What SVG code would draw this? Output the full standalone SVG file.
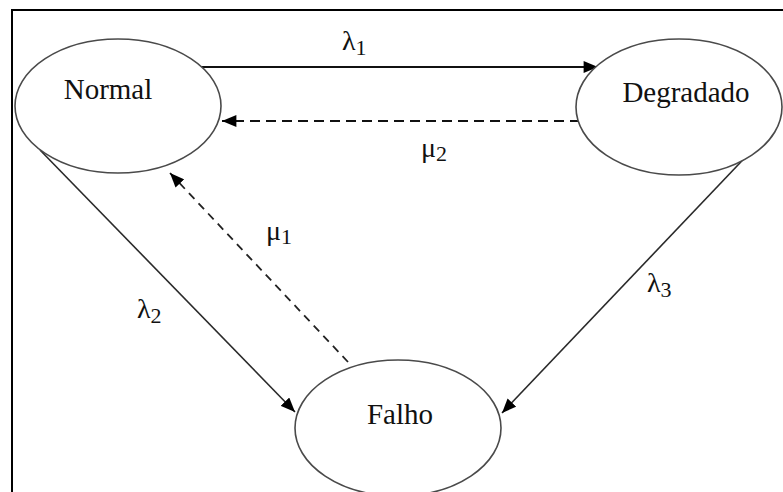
<svg xmlns="http://www.w3.org/2000/svg" width="783" height="492" viewBox="0 0 783 492">
  <style>
    .node ellipse { fill: #ffffff; stroke: #4a4a4a; stroke-width: 1.6; }
    .node text { font-family: "Liberation Serif", "DejaVu Serif", serif; font-size: 29px; fill: #111; text-anchor: middle; }
    .lbl { font-family: "Liberation Serif", "DejaVu Serif", serif; font-size: 28px; fill: #111; }
    .lbl tspan.sub { font-size: 22px; }
    .solid { fill: none; stroke: #111; stroke-width: 2; }
    .thin { fill: none; stroke: #2a2a2a; stroke-width: 1.6; }
    .dash { fill: none; stroke: #111; stroke-width: 2; stroke-dasharray: 10 6; }
    .dash2 { fill: none; stroke: #222; stroke-width: 1.8; stroke-dasharray: 8 6; }
  </style>
  <defs>
    <marker id="arr" viewBox="0 0 12 10" refX="12" refY="5" markerWidth="15" markerHeight="12" markerUnits="userSpaceOnUse" orient="auto">
      <path d="M0,0 L12,5 L0,10 z" fill="#000"/>
    </marker>
  </defs>
  <rect x="0" y="0" width="783" height="492" fill="#ffffff"/>
  <rect x="12" y="10" width="800" height="520" fill="none" stroke="#000" stroke-width="2"/>

  <g id="connectors">
    <line class="solid" x1="200" y1="67" x2="598" y2="67" marker-end="url(#arr)"/>
    <line class="dash" x1="580" y1="121" x2="222" y2="121" marker-end="url(#arr)"/>
    <line class="thin" x1="40" y1="150" x2="295" y2="412" marker-end="url(#arr)"/>
    <line class="dash2" x1="348" y1="362" x2="170" y2="173" marker-end="url(#arr)"/>
    <line class="thin" x1="757" y1="145" x2="502" y2="413" marker-end="url(#arr)"/>
    <text class="lbl" x="342" y="50">λ<tspan class="sub" dy="5">1</tspan></text>
    <text class="lbl" x="421" y="157">μ<tspan class="sub" dy="4">2</tspan></text>
    <text class="lbl" x="266" y="240">μ<tspan class="sub" dy="4">1</tspan></text>
    <text class="lbl" x="137" y="318">λ<tspan class="sub" dy="5">2</tspan></text>
    <text class="lbl" x="647" y="292">λ<tspan class="sub" dy="5">3</tspan></text>
  </g>

  <g id="normal" class="node">
    <ellipse cx="118" cy="106" rx="103" ry="67"/>
    <text x="108" y="99">Normal</text>
  </g>
  <g id="degradado" class="node">
    <ellipse cx="679" cy="107" rx="103" ry="68"/>
    <text x="686" y="102">Degradado</text>
  </g>
  <g id="falho" class="node">
    <ellipse cx="398" cy="428" rx="103" ry="68"/>
    <text x="400" y="424">Falho</text>
  </g>
</svg>
